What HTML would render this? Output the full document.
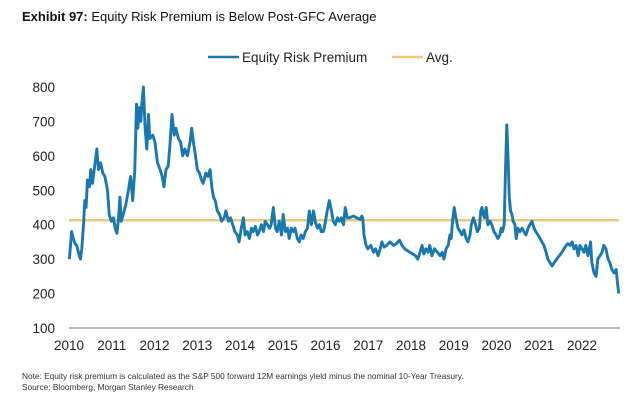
<!DOCTYPE html>
<html><head><meta charset="utf-8">
<style>
body{margin:0;background:#fff;font-family:"Liberation Sans",sans-serif;}
svg text{font-family:"Liberation Sans",sans-serif;}
</style></head>
<body>
<svg width="640" height="406" xmlns="http://www.w3.org/2000/svg">
<text x="22" y="21" font-size="13" fill="#111"><tspan font-weight="bold">Exhibit 97:</tspan> Equity Risk Premium is Below Post-GFC Average</text>
<g>
<line x1="208" y1="57" x2="239" y2="57" stroke="#1a78b0" stroke-width="2.5"/>
<text x="242" y="62" font-size="13.5" fill="#222">Equity Risk Premium</text>
<line x1="392" y1="57" x2="423" y2="57" stroke="#f0c877" stroke-width="2.5"/>
<text x="426" y="62" font-size="13.5" fill="#222">Avg.</text>
</g>
<g id="yaxis"></g>
<g id="xaxis"></g>
<line x1="69" y1="328" x2="620" y2="328" stroke="#777" stroke-width="1"/>
<g id="plot"></g>
<text x="22" y="379" font-size="8.3" fill="#333">Note: Equity risk premium is calculated as the S&amp;P 500 forward 12M earnings yield minus the nominal 10-Year Treasury.</text>
<text x="22" y="390" font-size="8.3" fill="#333">Source: Bloomberg, Morgan Stanley Research</text>
</svg>
<script>
const yTicks=[100,200,300,400,500,600,700,800];
const xTicks=[2010,2011,2012,2013,2014,2015,2016,2017,2018,2019,2020,2021,2022];
const avgValue=413;
const dates=[2010.01,2010.06,2010.10,2010.14,2010.18,2010.24,2010.27,2010.30,2010.34,2010.37,2010.40,2010.43,2010.48,2010.51,2010.55,2010.61,2010.65,2010.69,2010.74,2010.79,2010.84,2010.90,2010.94,2010.99,2011.04,2011.08,2011.12,2011.16,2011.19,2011.22,2011.27,2011.33,2011.39,2011.44,2011.49,2011.54,2011.58,2011.61,2011.65,2011.68,2011.71,2011.74,2011.78,2011.82,2011.86,2011.89,2011.96,2012.01,2012.07,2012.13,2012.18,2012.22,2012.27,2012.32,2012.36,2012.41,2012.46,2012.50,2012.56,2012.61,2012.66,2012.71,2012.77,2012.83,2012.87,2012.91,2012.96,2013.00,2013.05,2013.10,2013.14,2013.20,2013.25,2013.30,2013.34,2013.38,2013.42,2013.47,2013.52,2013.57,2013.63,2013.67,2013.73,2013.78,2013.83,2013.88,2013.94,2013.98,2014.03,2014.08,2014.12,2014.17,2014.22,2014.27,2014.31,2014.36,2014.41,2014.45,2014.50,2014.55,2014.59,2014.64,2014.69,2014.73,2014.78,2014.83,2014.87,2014.92,2014.97,2015.01,2015.06,2015.11,2015.15,2015.20,2015.25,2015.29,2015.34,2015.39,2015.43,2015.48,2015.53,2015.58,2015.62,2015.67,2015.72,2015.76,2015.81,2015.86,2015.90,2015.95,2016.00,2016.04,2016.09,2016.14,2016.18,2016.23,2016.28,2016.32,2016.37,2016.42,2016.46,2016.51,2016.56,
2016.65,2016.73,2016.81,2016.85,2016.87,2016.90,2016.95,2016.99,2017.06,2017.12,2017.17,2017.23,2017.28,2017.32,2017.37,2017.43,2017.51,2017.59,2017.66,2017.73,2017.79,2017.85,2017.91,2017.98,2018.04,2018.10,2018.16,2018.21,2018.26,2018.30,2018.35,2018.40,2018.44,2018.49,2018.55,2018.62,2018.68,2018.73,2018.77,2018.82,2018.87,2018.91,2018.94,2018.97,2019.01,2019.05,2019.10,2019.15,2019.19,2019.24,2019.29,2019.33,2019.38,2019.41,2019.46,2019.51,2019.55,2019.60,2019.63,2019.66,2019.69,2019.72,2019.76,2019.80,2019.85,2019.89,2019.94,2019.99,2020.03,2020.08,2020.11,2020.14,2020.18,2020.21,2020.24,2020.27,2020.30,2020.33,2020.36,2020.39,2020.43,2020.46,2020.50,2020.55,2020.60,2020.64,2020.69,2020.74,2020.78,2020.83,2020.88,2020.92,2020.97,2021.02,2021.06,2021.11,2021.16,2021.20,2021.25,2021.30,2021.35,2021.41,2021.47,2021.53,2021.58,2021.63,2021.67,2021.72,2021.77,2021.81,2021.86,2021.91,2021.95,2022.00,2022.05,2022.09,2022.14,2022.17,2022.20,2022.23,2022.28,2022.33,2022.37,2022.42,2022.47,2022.51,2022.56,2022.61,2022.65,2022.70,2022.75,2022.80,2022.83,2022.86];
const erpValues=[300,380,360,345,340,310,300,330,400,470,450,530,510,560,520,580,620,560,580,550,540,500,430,410,420,390,375,420,480,410,430,460,500,540,470,560,750,680,740,700,760,800,680,620,720,650,660,640,580,560,540,510,560,570,630,720,660,680,650,640,600,620,600,640,680,640,600,560,550,530,520,550,540,560,510,480,470,440,430,410,420,440,410,420,400,380,370,350,390,420,370,380,360,390,380,395,370,380,400,380,410,400,390,400,450,390,380,410,370,430,380,390,360,390,380,390,360,350,370,360,380,390,440,400,440,410,390,400,380,380,410,440,470,440,410,400,420,410,420,400,450,420,420,
425,420,415,425,420,370,340,330,340,320,330,310,330,350,335,340,350,340,345,355,340,330,325,320,315,310,300,320,340,315,330,320,340,310,330,320,310,320,300,330,340,370,360,410,450,420,390,380,370,385,360,350,370,400,420,400,380,390,440,450,430,420,450,400,410,400,380,370,360,370,390,380,400,560,690,600,480,440,430,410,400,360,390,380,390,380,370,390,400,410,390,380,370,360,350,340,320,300,290,280,290,300,310,320,330,340,345,340,350,330,340,310,340,330,320,340,310,330,350,290,260,250,300,310,320,340,330,300,290,270,260,270,230,200,210];

const NS='http://www.w3.org/2000/svg';
function xScale(t){return 69+(t-2010)*42.75;}
function yScale(v){return 328-(v-100)*0.3443;}
const yG=document.getElementById('yaxis'),xG=document.getElementById('xaxis'),plot=document.getElementById('plot');
yTicks.forEach(v=>{
  const t=document.createElementNS(NS,'text');
  
  
  t.setAttribute('x',55);t.setAttribute('y',yScale(v)+5);
  t.setAttribute('text-anchor','end');t.setAttribute('font-size','13.5');t.setAttribute('fill','#222');
  t.textContent=v;yG.appendChild(t);
});
xTicks.forEach(y=>{
  const t=document.createElementNS(NS,'text');
  
  
  t.setAttribute('x',xScale(y));t.setAttribute('y',350);
  t.setAttribute('text-anchor','middle');t.setAttribute('font-size','13.5');t.setAttribute('fill','#222');
  t.textContent=y;xG.appendChild(t);
});
const avg=document.createElementNS(NS,'line');


avg.setAttribute('x1',xScale(2010));avg.setAttribute('x2',xScale(dates[dates.length-1]));
avg.setAttribute('y1',yScale(avgValue));avg.setAttribute('y2',yScale(avgValue));
avg.setAttribute('stroke','#f0c877');avg.setAttribute('stroke-width','2.5');
plot.appendChild(avg);
const p=document.createElementNS(NS,'polyline');


p.setAttribute('points',dates.map((d,i)=>xScale(d).toFixed(1)+','+yScale(erpValues[i]).toFixed(1)).join(' '));
p.setAttribute('fill','none');p.setAttribute('stroke','#1a78b0');p.setAttribute('stroke-width','2.9');p.setAttribute('stroke-linejoin','round');
plot.appendChild(p);
</script>
</body></html>
